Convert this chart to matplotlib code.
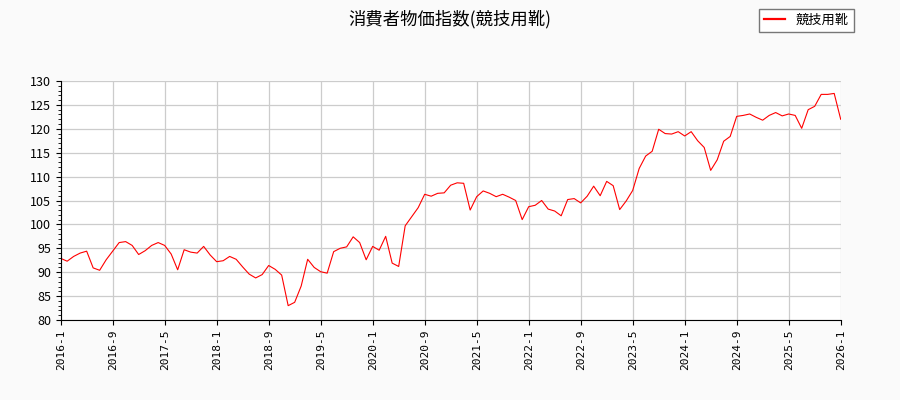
import matplotlib
matplotlib.use("Agg")
import matplotlib.pyplot as plt
from matplotlib.ticker import MultipleLocator
import numpy as np

plt.rcParams['font.family'] = ['Noto Sans CJK JP', 'DejaVu Sans']

# 月次データ 2016-1 〜 2026-1
start_year = 2016
start_month = 1
values = [
    92.9, 92.3, 93.3, 94.0, 94.4, 90.9, 90.4, 92.6, 94.4, 96.2, 96.4, 95.6,
    93.7, 94.5, 95.6, 96.2, 95.6, 93.8, 90.5, 94.7, 94.2, 94.0, 95.4, 93.6,
    92.2, 92.4, 93.3, 92.7, 91.1, 89.6, 88.8, 89.5, 91.4, 90.6, 89.4, 83.0,
    83.7, 87.1, 92.7, 91.0, 90.1, 89.8, 94.3, 95.0, 95.3, 97.4, 96.2, 92.6,
    95.4, 94.6, 97.5, 91.9, 91.2, 99.7, 101.6, 103.5, 106.3, 105.9, 106.5, 106.6,
    108.2, 108.7, 108.6, 103.0, 105.8, 107.0, 106.5, 105.8, 106.3, 105.7, 105.0, 101.0,
    103.7, 104.0, 105.0, 103.2, 102.8, 101.8, 105.2, 105.4, 104.5, 105.9, 108.0, 106.0,
    109.0, 108.1, 103.1, 104.9, 107.1, 111.7, 114.3, 115.3, 119.9, 119.0, 118.9, 119.4,
    118.5, 119.4, 117.5, 116.1, 111.3, 113.5, 117.4, 118.4, 122.6, 122.8, 123.1, 122.4,
    121.8, 122.8, 123.4, 122.7, 123.1, 122.8, 120.1, 124.0, 124.7, 127.2, 127.2, 127.4,
    122.0,
]
series_name = "競技用靴"
title = "消費者物価指数(競技用靴)"

months = [f"{start_year + (start_month - 1 + i) // 12}-{(start_month - 1 + i) % 12 + 1}"
          for i in range(len(values))]
x = np.arange(len(values))

fig = plt.figure(figsize=(9, 4), dpi=100, facecolor='#fafafa')
ax = fig.add_axes([0.0674, 0.2, 0.8667, 0.5975])
ax.set_facecolor('white')

ax.plot(x, values, color='red', linewidth=0.8, label=series_name)

ax.set_xlim(0, len(values) - 1)
ax.set_ylim(80, 130)
tick_pos = x[::8]
ax.set_xticks(tick_pos)
ax.set_xticklabels([months[i] for i in tick_pos], rotation=90,
                   family='DejaVu Sans Mono', fontsize=8)
ax.yaxis.set_major_locator(MultipleLocator(5))
ax.yaxis.set_minor_locator(MultipleLocator(1))
ax.tick_params(axis='y', labelsize=9)
ax.grid(True, color='#cccccc', linewidth=0.9)
ax.set_axisbelow(True)

for s in ['top', 'right']:
    ax.spines[s].set_visible(False)

fig.suptitle(title, fontsize=12.5, y=0.975)
leg = fig.legend(loc='upper right', bbox_to_anchor=(0.956, 0.995), fontsize=9.5,
                 fancybox=False, edgecolor='#777777', framealpha=1,
                 handlelength=1.6)
for line in leg.get_lines():
    line.set_linewidth(1.6)

fig.savefig("out.png", dpi=100, facecolor=fig.get_facecolor())
